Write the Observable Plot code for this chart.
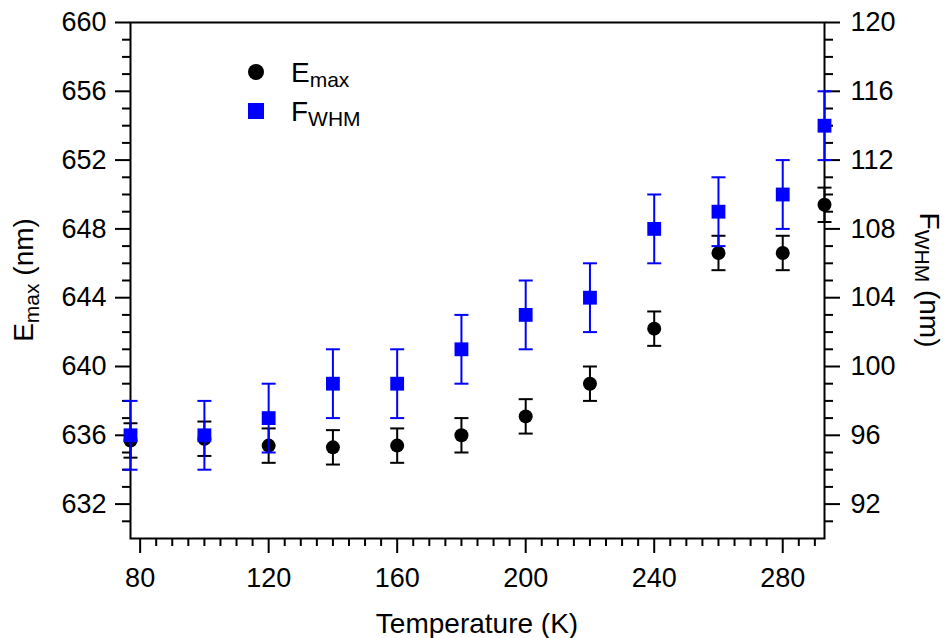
<!DOCTYPE html>
<html>
<head>
<meta charset="utf-8">
<script src="https://cdn.jsdelivr.net/npm/d3@7"></script>
<script src="https://cdn.jsdelivr.net/npm/@observablehq/plot@0.6"></script>
<style>
  html, body { margin: 0; padding: 0; background: #fff; }
  #chart { width: 944px; height: 638px; }
</style>
</head>
<body>
<div id="chart"></div>
<script>
// ---- data ----
const temps   = [77, 100, 120, 140, 160, 180, 200, 220, 240, 260, 280, 293];
const emax    = [635.7, 635.8, 635.4, 635.3, 635.4, 636.0, 637.1, 639.0, 642.2, 646.6, 646.6, 649.4];
const emaxErr = [1, 1, 1, 1, 1, 1, 1, 1, 1, 1, 1, 1];
const fwhm    = [96, 96, 97, 99, 99, 101, 103, 104, 108, 109, 110, 114];
const fwhmErr = [2, 2, 2, 2, 2, 2, 2, 2, 2, 2, 2, 2];

const xMajorTicks = [80, 120, 160, 200, 240, 280];
const xMinorTicks = [85, 90, 95, 100, 105, 110, 115, 125, 130, 135, 140, 145, 150, 155, 165, 170, 175, 180, 185, 190, 195, 205, 210, 215, 220, 225, 230, 235, 245, 250, 255, 260, 265, 270, 275, 285, 290];
const leftMajorTicks = [632, 636, 640, 644, 648, 652, 656, 660];
const leftMinorTicks = [631, 633, 634, 635, 637, 638, 639, 641, 642, 643, 645, 646, 647, 649, 650, 651, 653, 654, 655, 657, 658, 659];
const rightMajorTicks = [92, 96, 100, 104, 108, 112, 116, 120];
const rightMinorTicks = [91, 93, 94, 95, 97, 98, 99, 101, 102, 103, 105, 106, 107, 109, 110, 111, 113, 114, 115, 117, 118, 119];

const xDomain = [77, 293];
const leftDomain = [630, 660];
const rightDomain = [90, 120];
const offset = leftDomain[0] - rightDomain[0]; // maps right axis values onto left scale

const legendItems = [
  {main: "E", sub: "max", symbol: "circle", color: "#000000"},
  {main: "F", sub: "WHM", symbol: "square", color: "#0000ff"}
];

// ---- table ----
const rows = temps.map((t, i) => ({
  t,
  e: emax[i], eLo: emax[i] - emaxErr[i], eHi: emax[i] + emaxErr[i],
  f: fwhm[i] + offset, fLo: fwhm[i] - fwhmErr[i] + offset, fHi: fwhm[i] + fwhmErr[i] + offset
}));

const capSymbol = {
  draw(ctx, size) {
    const w = Math.sqrt(size / Math.PI);
    ctx.moveTo(-w, 0);
    ctx.lineTo(w, 0);
  }
};

const font = "'Liberation Sans', Arial, Helvetica, sans-serif";
const noLabel = () => "";

const minorX = Plot.axisTickX
  ? Plot.axisTickX(xMinorTicks, {anchor: "bottom", tickSize: 8, strokeWidth: 2})
  : Plot.axisX(xMinorTicks, {anchor: "bottom", tickSize: 8, strokeWidth: 2, label: null, tickFormat: noLabel});
const minorYL = Plot.axisTickY
  ? Plot.axisTickY(leftMinorTicks, {anchor: "left", tickSize: 8, strokeWidth: 2})
  : Plot.axisY(leftMinorTicks, {anchor: "left", tickSize: 8, strokeWidth: 2, label: null, tickFormat: noLabel});
const minorYR = Plot.axisTickY
  ? Plot.axisTickY(rightMinorTicks.map(v => v + offset), {anchor: "right", tickSize: 8, strokeWidth: 2})
  : Plot.axisY(rightMinorTicks.map(v => v + offset), {anchor: "right", tickSize: 8, strokeWidth: 2, label: null, tickFormat: noLabel});

const plot = Plot.plot({
  width: 944,
  height: 638,
  marginLeft: 130,
  marginRight: 120,
  marginTop: 22,
  marginBottom: 100,
  style: {fontFamily: font, fontSize: "27px", color: "black", background: "white"},
  x: {domain: xDomain},
  y: {domain: leftDomain},
  marks: [
    // axes
    Plot.axisX(xMajorTicks, {anchor: "bottom", tickSize: 15, tickPadding: 14, strokeWidth: 2, label: null, tickFormat: d => String(d)}),
    minorX,
    Plot.axisY(leftMajorTicks, {anchor: "left", tickSize: 15, tickPadding: 9, strokeWidth: 2, label: null, tickFormat: d => String(d)}),
    minorYL,
    Plot.axisY(rightMajorTicks.map(v => v + offset), {anchor: "right", tickSize: 15, tickPadding: 11, strokeWidth: 2, label: null, tickFormat: d => String(d - offset)}),
    minorYR,
    Plot.frame({stroke: "black", strokeWidth: 2}),
    // E_max error bars + points
    Plot.ruleX(rows, {x: "t", y1: "eLo", y2: "eHi", stroke: "black", strokeWidth: 2}),
    Plot.dot(rows, {x: "t", y: "eLo", symbol: capSymbol, r: 7, stroke: "black", strokeWidth: 2, fill: "none"}),
    Plot.dot(rows, {x: "t", y: "eHi", symbol: capSymbol, r: 7, stroke: "black", strokeWidth: 2, fill: "none"}),
    Plot.dot(rows, {x: "t", y: "e", symbol: "circle", r: 7, fill: "black", stroke: "none"}),
    // FWHM error bars + points
    Plot.ruleX(rows, {x: "t", y1: "fLo", y2: "fHi", stroke: "#0000ff", strokeWidth: 2}),
    Plot.dot(rows, {x: "t", y: "fLo", symbol: capSymbol, r: 7, stroke: "#0000ff", strokeWidth: 2, fill: "none"}),
    Plot.dot(rows, {x: "t", y: "fHi", symbol: capSymbol, r: 7, stroke: "#0000ff", strokeWidth: 2, fill: "none"}),
    Plot.dot(rows, {x: "t", y: "f", symbol: "square", r: 7.8, fill: "#0000ff", stroke: "none"})
  ]
});

document.getElementById("chart").appendChild(plot);

// ---- titles and legend (real SVG text) ----
const svg = d3.select(plot);

// x title
svg.append("text")
  .attr("x", 477).attr("y", 633)
  .attr("text-anchor", "middle")
  .attr("font-family", font).attr("font-size", 28).attr("fill", "black")
  .text("Temperature (K)");

function subTitle(g, main, sub, rest, subShift) {
  const t = g.append("text")
    .attr("text-anchor", "middle")
    .attr("font-family", font).attr("font-size", 28).attr("fill", "black");
  t.append("tspan").text(main);
  t.append("tspan").attr("dy", subShift).attr("font-size", 21).text(sub);
  if (rest) t.append("tspan").attr("dy", -subShift).attr("font-size", 28).text(rest);
  return t;
}

subTitle(svg.append("g").attr("transform", "translate(33,280) rotate(-90)"), "E", "max", " (nm)", 6);
subTitle(svg.append("g").attr("transform", "translate(920,280) rotate(90)"), "F", "WHM", " (nm)", 5);

// legend
const legendY = [72, 111];
legendItems.forEach((item, i) => {
  const g = svg.append("g").attr("transform", `translate(256,${legendY[i]})`);
  if (item.symbol === "circle") {
    g.append("circle").attr("r", 8).attr("fill", item.color);
  } else {
    g.append("rect").attr("x", -8).attr("y", -8).attr("width", 16).attr("height", 16).attr("fill", item.color);
  }
  const t = g.append("text")
    .attr("x", 35).attr("y", 10)
    .attr("text-anchor", "start")
    .attr("font-family", font).attr("font-size", 28).attr("fill", "black");
  t.append("tspan").text(item.main);
  t.append("tspan").attr("dy", 5).attr("font-size", 21).text(item.sub);
});
</script>
</body>
</html>
